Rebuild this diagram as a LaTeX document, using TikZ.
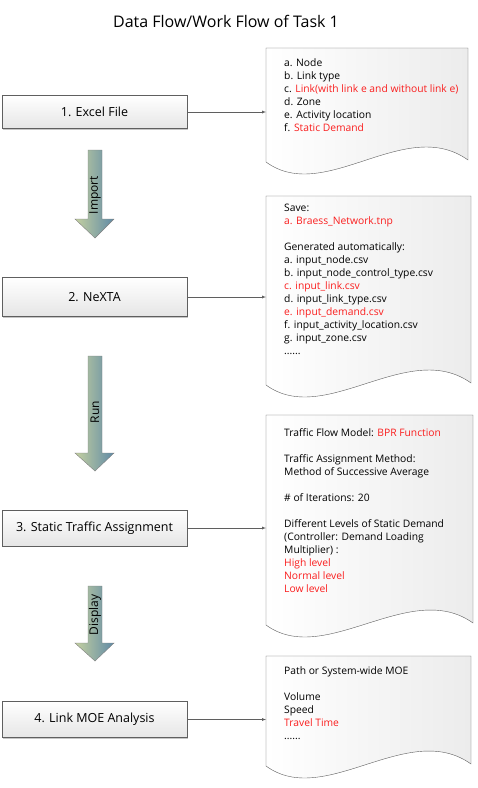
\documentclass[tikz,border=0pt]{standalone}
\usepackage{fontspec}
\setmainfont{Open Sans}
\usepackage{xcolor}
\usetikzlibrary{shadows,arrows}
\definecolor{myred}{RGB}{250,30,30}
\definecolor{linegray}{RGB}{95,95,95}
\definecolor{arrgreen}{RGB}{196,208,160}
\definecolor{arrblue}{RGB}{96,138,166}

\tikzset{
  stepbox/.style={draw=linegray, top color=white, bottom color=gray!20, minimum width=185pt,
    font=\fontsize{12.5}{14}\selectfont,
    drop shadow={shadow xshift=1.2pt, shadow yshift=-1.2pt, opacity=.45}},
  docshape/.style={draw=linegray, left color=white, right color=gray!15},
  doctext/.style={anchor=north west, align=left, inner sep=0pt, font=\fontsize{10.3}{13}\selectfont},
  bigarr/.style={draw=gray, left color=arrgreen, right color=arrblue},
  flow/.style={-latex, linegray}
}

% document page with wavy bottom: left x, top y, right x, bottom y, name
\newcommand{\docpage}[5]{%
  \path[docshape] (#1,#2) -- (#3,#2) -- (#3,#4-2)
    .. controls (#3-63,#4-47) and (#1+59,#4+43) .. (#1,#4) -- cycle;
  \coordinate (#5) at (#1,#2);
}
% block arrow: top, head base, tip, label y, label, name
\newcommand{\blockarrow}[6]{%
  \path[bigarr] (88,#1) -- (102,#1) -- (102,#2) -- (114,#2) -- (95,#3)
    -- (75,#2) -- (88,#2) -- cycle;
  \node[rotate=90, inner sep=0pt, font=\fontsize{12}{14}\selectfont] (#6) at (95,#4) {#5};
}

\begin{document}
\begin{tikzpicture}[x=1pt, y=-1pt]
    \useasboundingbox (0,0) rectangle (478,788);

    % title
    \node[font=\fontsize{16}{19}\selectfont] (title) at (226,21) {Data Flow/Work Flow of Task 1};

    % steps
    \node[stepbox, minimum height=33pt] (b1) at (94.5,112) {1. Excel File};
    \node[stepbox, minimum height=39pt] (b2) at (94.5,297) {2. NeXTA};
    \node[stepbox, minimum height=36pt] (b3) at (94.5,528) {3. Static Traffic Assignment};
    \node[stepbox, minimum height=36pt] (b4) at (94.5,719.5) {4. Link MOE Analysis};

    % block arrows
    \blockarrow{150}{219}{238}{195}{Import}{imp}
    \blockarrow{356}{453}{471}{412}{Run}{run}
    \blockarrow{586}{643}{661}{615}{Display}{disp}

    % documents
    \docpage{266}{48}{468}{162}{d1}
    \docpage{266}{196}{471}{385}{d2}
    \docpage{266}{415}{473}{625}{d3}
    \docpage{266}{656}{471}{766}{d4}

    \node[doctext] (t1) at (284,58) {a. Node\\ b. Link type\\
      c. \textcolor{myred}{Link(with link e and without link e)}\\
      d. Zone\\ e. Activity location\\ f. \textcolor{myred}{Static Demand}};
    \node[doctext] (t2) at (284,204) {Save:\\ \textcolor{myred}{a. Braess\_Network.tnp}\\[13pt]
      Generated automatically:\\ a. input\_node.csv\\ b. input\_node\_control\_type.csv\\
      \textcolor{myred}{c. input\_link.csv}\\ d. input\_link\_type.csv\\
      \textcolor{myred}{e. input\_demand.csv}\\ f. input\_activity\_location.csv\\
      g. input\_zone.csv\\ ......};
    \node[doctext] (t3) at (284,428) {Traffic Flow Model: \textcolor{myred}{BPR Function}\\[13pt]
      Traffic Assignment Method:\\ Method of Successive Average\\[13pt]
      \# of Iterations: 20\\[13pt]
      Different Levels of Static Demand\\ (Controller: Demand Loading\\ Multiplier) :\\
      \textcolor{myred}{High level}\\ \textcolor{myred}{Normal level}\\ \textcolor{myred}{Low level}};
    \node[doctext] (t4) at (284,666) {Path or System-wide MOE\\[13pt]
      Volume\\ Speed\\ \textcolor{myred}{Travel Time}\\ ......};

    % connectors
    \draw[flow] (b1.east) -- (b1.east -| d1);
    \draw[flow] (b2.east) -- (b2.east -| d2);
    \draw[flow] (b3.east) -- (b3.east -| d3);
    \draw[flow] (b4.east) -- (b4.east -| d4);
\end{tikzpicture}
\end{document}
